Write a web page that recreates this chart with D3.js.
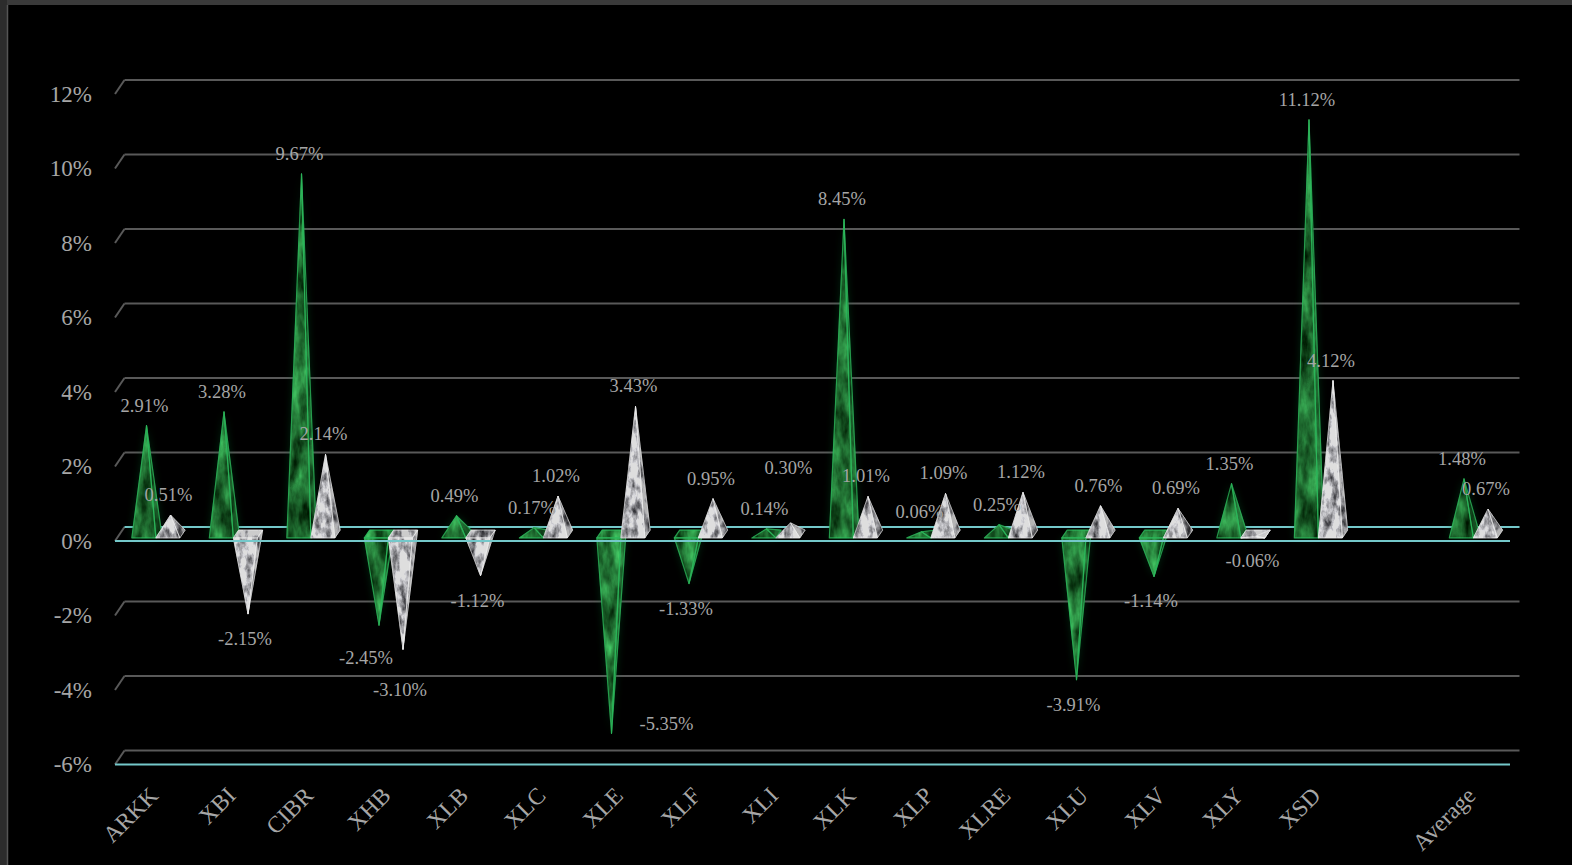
<!DOCTYPE html>
<html>
<head>
<meta charset="utf-8">
<script src="https://cdn.jsdelivr.net/npm/d3@7"></script>
<style>
  html, body { margin: 0; padding: 0; background: #000; }
  svg { display: block; }
  text { font-family: "Liberation Serif", "DejaVu Serif", serif; }
</style>
</head>
<body>
<script>
// ---------- DATA ----------
const categories = ["ARKK","XBI","CIBR","XHB","XLB","XLC","XLE","XLF","XLI","XLK","XLP","XLRE","XLU","XLV","XLY","XSD","","Average"];
const seriesGreen = [2.91, 3.28, 9.67, -2.45, 0.49, 0.17, -5.35, -1.33, 0.14, 8.45, 0.06, 0.25, -3.91, -1.14, 1.35, 11.12, null, 1.48];
const seriesWhite = [0.51, -2.15, 2.14, -3.10, -1.12, 1.02, 3.43, 0.95, 0.30, 1.01, 1.09, 1.12, 0.76, 0.69, -0.06, 4.12, null, 0.67];
const yTicks = [-6, -4, -2, 0, 2, 4, 6, 8, 10, 12];
const yTickLabels = ["-6%", "-4%", "-2%", "0%", "2%", "4%", "6%", "8%", "10%", "12%"];

// ---------- SETUP ----------
const W = 1572, H = 865;
const svg = d3.select("body").append("svg").attr("width", W).attr("height", H);

// frame
svg.append("rect").attr("x", 0).attr("y", 0).attr("width", W).attr("height", H).attr("fill", "#000");
svg.append("rect").attr("x", 0).attr("y", 0).attr("width", W).attr("height", 5).attr("fill", "#3a3a3a");
svg.append("rect").attr("x", 0).attr("y", 0).attr("width", 7).attr("height", H).attr("fill", "#2c2c2c");
svg.append("line").attr("x1", 7.5).attr("x2", 7.5).attr("y1", 5).attr("y2", H).attr("stroke", "#555").attr("stroke-width", 1.5);

const defs = svg.append("defs");
// green marble texture
const fg = defs.append("filter").attr("id", "texGreen")
  .attr("x", "-2%").attr("y", "-2%").attr("width", "104%").attr("height", "104%")
  .attr("color-interpolation-filters", "sRGB");
fg.append("feTurbulence").attr("type", "fractalNoise").attr("baseFrequency", "0.08 0.03")
  .attr("numOctaves", 4).attr("seed", 7).attr("result", "n");
fg.append("feColorMatrix").attr("in", "n").attr("type", "matrix")
  .attr("values", "0.45 0 0 0 -0.08  1.15 0 0 0 -0.07  0.65 0 0 0 -0.1  0 0 0 0 1").attr("result", "c");
fg.append("feComposite").attr("in", "c").attr("in2", "SourceGraphic").attr("operator", "arithmetic")
  .attr("k1", 1).attr("k2", 0).attr("k3", 0).attr("k4", 0);
// white marble texture
const fw = defs.append("filter").attr("id", "texWhite")
  .attr("x", "-2%").attr("y", "-2%").attr("width", "104%").attr("height", "104%")
  .attr("color-interpolation-filters", "sRGB");
fw.append("feTurbulence").attr("type", "fractalNoise").attr("baseFrequency", "0.13 0.07")
  .attr("numOctaves", 4).attr("seed", 3).attr("result", "n");
fw.append("feColorMatrix").attr("in", "n").attr("type", "matrix")
  .attr("values", "1.9 0 0 0 -0.1  1.9 0 0 0 -0.1  1.9 0 0 0 -0.08  0 0 0 0 1").attr("result", "c");
fw.append("feComposite").attr("in", "c").attr("in2", "SourceGraphic").attr("operator", "arithmetic")
  .attr("k1", 1).attr("k2", 0).attr("k3", 0).attr("k4", 0);
// glow
defs.append("filter").attr("id", "glow").attr("x", "-50%").attr("y", "-20%").attr("width", "200%").attr("height", "140%")
  .append("feGaussianBlur").attr("stdDeviation", 4);

// ---------- SCALES ----------
const x = d3.scaleBand().domain(d3.range(categories.length)).range([115, 1510]);
const sub = d3.scaleBand().domain(["green", "white"]).range([-24, 24]);
const y = d3.scaleLinear().domain([-6, 12]).range([764.5, 94]);
const DX = 9.5, DY = -14;               // full depth offset of the back wall
const P = (px, v, z) => [px + z * DX, y(v) + z * DY];
const cyan = "#74c8ca", grid = "#595959";

// ---------- GRID ----------
const gGrid = svg.append("g");
yTicks.forEach(t => {
  const a = P(115, t, 0), b = P(115, t, 1), c = P(1510, t, 1);
  gGrid.append("line").attr("x1", a[0]).attr("y1", a[1]).attr("x2", b[0]).attr("y2", b[1])
    .attr("stroke", grid).attr("stroke-width", 2);
  gGrid.append("line").attr("x1", b[0]).attr("y1", b[1]).attr("x2", c[0]).attr("y2", c[1])
    .attr("stroke", t === 0 ? cyan : grid).attr("stroke-width", 2);
});

// y labels
svg.append("g").selectAll("text").data(yTicks).join("text")
  .attr("x", 92).attr("y", d => y(d)).attr("text-anchor", "end").attr("dominant-baseline", "central")
  .attr("font-size", 23).attr("fill", "#a6a6a6").text((d, i) => yTickLabels[i]);

// ---------- PYRAMIDS ----------
const gGlow = svg.append("g").attr("filter", "url(#glow)").attr("opacity", 0.4);
const gGreen = svg.append("g").attr("filter", "url(#texGreen)");
const gGreenEdge = svg.append("g");
const gWhite = svg.append("g").attr("filter", "url(#texWhite)");
const gWhiteEdge = svg.append("g");

const hw = sub.bandwidth() / 2, z0 = 0.22, z1 = 0.78;
function pyramid(gFill, gEdge, cx, v, shades, edgeColor, edgeW) {
  const fl = P(cx - hw, 0, z0), fr = P(cx + hw, 0, z0), br = P(cx + hw, 0, z1), bl = P(cx - hw, 0, z1), ap = P(cx, v, 0.5);
  const faces = [];
  faces.push({ pts: [fr, br, ap], fill: shades.side });
  if (v < 0) faces.push({ pts: [fl, fr, br, bl], fill: shades.top });
  faces.push({ pts: [fl, fr, ap], fill: shades.front });
  faces.forEach(f => {
    gFill.append("polygon").attr("points", f.pts.map(p => p.join(",")).join(" ")).attr("fill", f.fill)
      .attr("stroke", f.fill).attr("stroke-width", 0.6);
    gEdge.append("polygon").attr("points", f.pts.map(p => p.join(",")).join(" ")).attr("fill", "none")
      .attr("stroke", edgeColor).attr("stroke-width", edgeW).attr("stroke-linejoin", "round").attr("opacity", 0.75);
  });
  return ap;
}

const labels = [];
categories.forEach((cat, i) => {
  const base = x(i) + x.bandwidth() / 2;
  const vg = seriesGreen[i], vw = seriesWhite[i];
  if (vg != null) {
    const cx = base + sub("green") + hw;
    const ap = P(cx, vg, 0.5);
    gGlow.append("polygon").attr("points", [P(cx - hw, 0, z0), P(cx + hw, 0, z0), P(cx + hw, 0, z1), ap].map(p => p.join(",")).join(" "))
      .attr("fill", "#0f6a2c");
    pyramid(gGreen, gGreenEdge, cx, vg, { front: "#d8d8d8", side: "#b0b0b0", top: "#f0f0f0" }, "#2cb95c", 1.2);
    labels.push({ i, s: "g", v: vg, ax: ap[0], ay: ap[1] });
  }
  if (vw != null) {
    const cx = base + sub("white") + hw;
    const ap = P(cx, vw, 0.5);
    pyramid(gWhite, gWhiteEdge, cx, vw, { front: "#dedede", side: "#b4b4b4", top: "#cccccc" }, "#f0f0f0", 0.8);
    labels.push({ i, s: "w", v: vw, ax: ap[0], ay: ap[1] });
  }
});

// front floor edge & bottom axis line (drawn over the hanging pyramids)
[0, -6].forEach(t => {
  const a = P(115, t, 0), b = P(1510, t, 0);
  svg.append("line").attr("x1", a[0]).attr("y1", a[1]).attr("x2", b[0]).attr("y2", b[1])
    .attr("stroke", cyan).attr("stroke-width", 2);
});

// ---------- VALUE LABELS ----------
const fmt = d => d.toFixed(2) + "%";
const bottom = y(-6);
labels.forEach(l => {
  l.anchor = "middle";
  if (l.v >= 0) { l.x = l.ax - 2; l.y = l.ay - 20; }
  else {
    l.x = l.ax - 3; l.y = l.ay + 25;
    if (l.y > bottom - 14) { l.x = l.ax + 28; l.y = l.ay - 9; l.anchor = "start"; }
  }
});
// simple collision avoidance within a category
d3.groups(labels, l => l.i).forEach(([i, ls]) => {
  if (ls.length < 2) return;
  const [a, b] = ls;
  if (Math.abs(a.x - b.x) < 50 && Math.abs(a.y - b.y) < 20) {
    if (b.v >= 0) b.y = Math.min(a.y, b.y) - 35; else b.y = Math.max(a.y, b.y) + 24;
  }
  if (a.v < 0 && b.v < 0) { a.x -= 10; a.y += 8; b.y += 16; }
});
svg.append("g").selectAll("text").data(labels).join("text")
  .attr("x", d => d.x).attr("y", d => d.y).attr("text-anchor", d => d.anchor).attr("dominant-baseline", "central")
  .attr("font-size", 18.5).attr("fill", "#a6a6a6").text(d => fmt(d.v));

// ---------- CATEGORY LABELS ----------
svg.append("g").selectAll("text").data(categories.map((c, i) => ({ c, i })).filter(d => d.c !== "")).join("text")
  .attr("transform", d => `translate(${x(d.i) + x.bandwidth() / 2 + DX / 2 + 1},797) rotate(-45)`)
  .attr("text-anchor", "end").attr("font-size", 23.5).attr("fill", "#a6a6a6").text(d => d.c);
</script>
</body>
</html>
